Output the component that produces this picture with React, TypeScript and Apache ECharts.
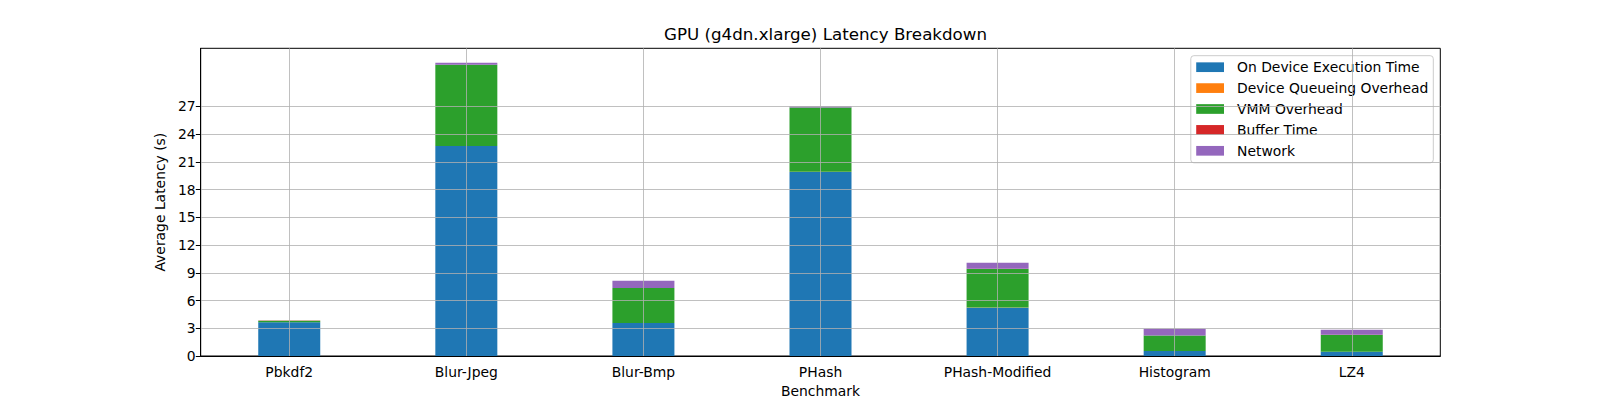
import React, { useEffect, useRef } from "react";
import * as echarts from "echarts";

const categories = ["Pbkdf2", "Blur-Jpeg", "Blur-Bmp", "PHash", "PHash-Modified", "Histogram", "LZ4"];
const onDevice = [3.64, 22.7, 3.57, 19.9, 5.23, 0.54, 0.46];
const queueing = [0.01, 0.01, 0.01, 0.01, 0.01, 0.01, 0.01];
const vmm = [0.17, 8.77, 3.78, 6.95, 4.18, 1.66, 1.81];
const buffer = [0.005, 0.005, 0.005, 0.005, 0.005, 0.005, 0.005];
const network = [0.0, 0.21, 0.76, 0.15, 0.65, 0.72, 0.54];
const yTicks = [0, 3, 6, 9, 12, 15, 18, 21, 24, 27];

const seriesNames = [
  "On Device Execution Time",
  "Device Queueing Overhead",
  "VMM Overhead",
  "Buffer Time",
  "Network",
];
const seriesData = [onDevice, queueing, vmm, buffer, network];
const colors = ["#1f77b4", "#ff7f0e", "#2ca02c", "#d62728", "#9467bd"];

export default function App() {
  const ref = useRef<HTMLDivElement>(null);
  useEffect(() => {
    if (!ref.current) return;
    const chart = echarts.init(ref.current, undefined, { renderer: "svg" });
    const font = "DejaVu Sans";
    chart.setOption({
      animation: false,
      backgroundColor: "#ffffff",
      textStyle: { fontFamily: font },
      title: {
        text: "GPU (g4dn.xlarge) Latency Breakdown",
        left: 820.5,
        textAlign: "center",
        top: 20,
        textStyle: { fontFamily: font, fontSize: 16.7, fontWeight: "normal", color: "#000" },
      },
      legend: {
        orient: "vertical",
        right: 1600 - 1433.3,
        top: 55.7,
        itemWidth: 27.8,
        itemHeight: 9.7,
        itemGap: 6.9,
        padding: [4.5, 5, 5, 5.4],
        backgroundColor: "rgba(255,255,255,0.8)",
        borderColor: "#cccccc",
        borderWidth: 1,
        borderRadius: 3,
        textStyle: { fontFamily: font, fontSize: 13.9, color: "#000", padding: [0, 0, 0, 8] },
        data: seriesNames.map((n) => ({ name: n, icon: "rect" })),
      },
      grid: {
        left: 200.7,
        right: 1600 - 1440.3,
        top: 48.3,
        bottom: 44,
        show: true,
        borderColor: "#000",
        borderWidth: 1,
        backgroundColor: "transparent",
        outerBoundsMode: "none",
        containLabel: false,
      },
      xAxis: {
        type: "category",
        data: categories,
        z: 5,
        name: "Benchmark",
        nameLocation: "middle",
        nameGap: 26.5,
        nameTextStyle: { fontFamily: font, fontSize: 13.9, color: "#000" },
        axisLine: { lineStyle: { color: "#000", width: 1 } },
        axisTick: { alignWithLabel: true, length: 4.9, lineStyle: { color: "#000" } },
        axisLabel: { fontFamily: font, fontSize: 13.9, color: "#000", margin: 9 },
        splitLine: { show: true, alignWithLabel: true, lineStyle: { color: "#b0b0b0", width: 0.8 } },
      },
      yAxis: {
        type: "value",
        min: 0,
        max: 33.27,
        z: 5,
        name: "Average Latency (s)",
        nameLocation: "middle",
        nameGap: 32.5,
        nameTextStyle: { fontFamily: font, fontSize: 13.9, color: "#000" },
        axisLine: { show: true, onZero: false, lineStyle: { color: "#000", width: 1 } },
        axisTick: { show: true, length: 4.9, customValues: yTicks, lineStyle: { color: "#000" } },
        axisLabel: { fontFamily: font, fontSize: 13.9, color: "#000", margin: 5, customValues: yTicks },
        splitLine: { show: true, lineStyle: { color: "#b0b0b0", width: 0.8 } },
      },
      series: seriesNames.map((name, i) => ({
        name,
        type: "bar",
        stack: "total",
        data: seriesData[i],
        barWidth: 62,
        itemStyle: { color: colors[i] },
      })),
    });
    return () => chart.dispose();
  }, []);
  return <div ref={ref} style={{ position: "fixed", left: 0, top: 0, width: 1600, height: 400 }} />;
}
